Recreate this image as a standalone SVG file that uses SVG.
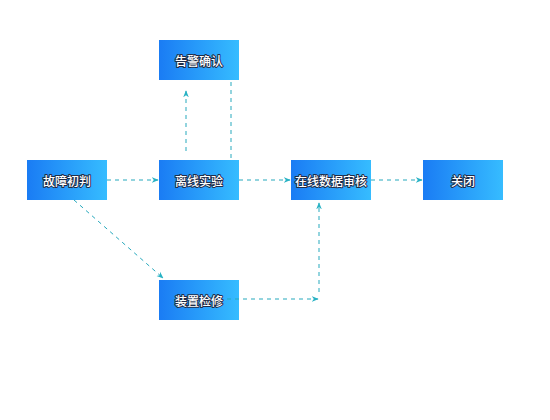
<svg xmlns="http://www.w3.org/2000/svg" width="550" height="420" viewBox="0 0 550 420">
<defs>
<linearGradient id="g" x1="0" y1="0" x2="1" y2="0">
<stop offset="0" stop-color="#1a7cf4"/>
<stop offset="1" stop-color="#36bcff"/>
</linearGradient>
<marker id="a" viewBox="0 0 10 10" refX="9" refY="5" markerWidth="7" markerHeight="7" orient="auto" markerUnits="userSpaceOnUse">
<path d="M0,1 L10,5 L0,9 L3,5 Z" fill="#27b2c4"/>
</marker>
<style>
.box{fill:url(#g)}
.t{font-family:"Noto Sans CJK SC",sans-serif;font-size:12px;font-weight:500;fill:#fff;stroke:#1f2d48;stroke-width:2px;paint-order:stroke;stroke-linejoin:round;text-anchor:middle;dominant-baseline:central}
.c{fill:none;stroke:#27a9bd;stroke-width:1;stroke-dasharray:4 4}
</style>
</defs>
<rect width="550" height="420" fill="#fff"/>
<g id="n-gjqr"><rect class="box" x="159" y="40" width="80" height="40"/><text class="t" x="199" y="60">告警确认</text></g>
<g id="n-gzcp"><rect class="box" x="27" y="160" width="80" height="40"/><text class="t" x="67" y="180">故障初判</text></g>
<g id="n-lxsy"><rect class="box" x="159" y="160" width="80" height="40"/><text class="t" x="199" y="180">离线实验</text></g>
<g id="n-zxsj"><rect class="box" x="291" y="160" width="80" height="40"/><text class="t" x="331" y="180">在线数据审核</text></g>
<g id="n-gb"><rect class="box" x="423" y="160" width="80" height="40"/><text class="t" x="463" y="180">关闭</text></g>
<g id="n-zzjx"><rect class="box" x="159" y="280" width="80" height="40"/><text class="t" x="199" y="300">装置检修</text></g>
<g id="connectors">
<path class="c" d="M107,180 L158,180" marker-end="url(#a)"/>
<path class="c" d="M239,180 L290,180" marker-end="url(#a)"/>
<path class="c" d="M371,180 L422,180" marker-end="url(#a)"/>
<path class="c" d="M186,151 L186,91" marker-end="url(#a)"/>
<path class="c" d="M231,82 L231,160"/>
<path class="c" d="M74,200 L163,278" marker-end="url(#a)"/>
<path class="c" d="M227,299 L318,299" marker-end="url(#a)"/>
<path class="c" d="M319,292 L319,203" marker-end="url(#a)"/>
</g>
</svg>
